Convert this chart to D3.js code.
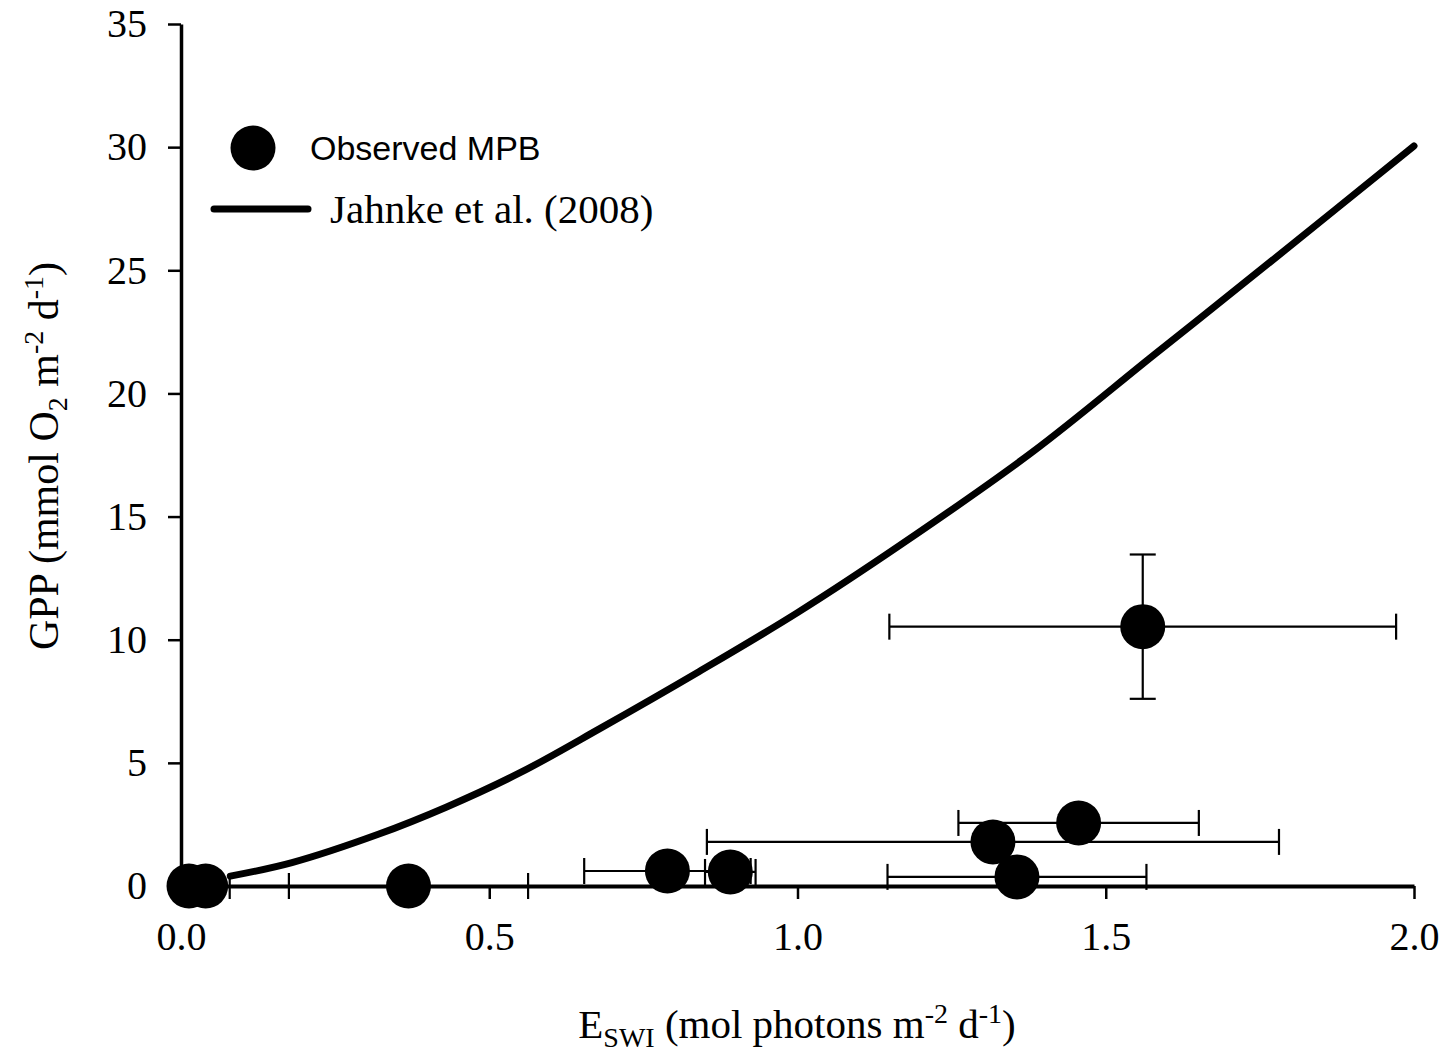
<!DOCTYPE html>
<html>
<head>
<meta charset="utf-8">
<script src="https://cdn.jsdelivr.net/npm/d3@7"></script>
<style>
  html, body { margin: 0; padding: 0; background: #fff; }
  svg { display: block; }
</style>
</head>
<body>
<svg id="chart" width="1446" height="1059"></svg>
<script>
// Observed MPB points
const obsX    = [0.013, 0.040, 0.369, 0.789, 0.891, 1.317, 1.356, 1.456, 1.560];
const obsY    = [0.0,   0.0,   0.0,   0.61,  0.57,  1.79,  0.37,  2.56,  10.53];
const obsXErr = [0.0,   0.039, 0.194, 0.135, 0.041, 0.464, 0.21,  0.195, 0.411];
const obsYErr = [0.0,   0.0,   0.0,   0.0,   0.0,   0.0,   0.0,   0.0,   2.93];

// Jahnke et al. (2008) curve
const curveX = [0.08, 0.18, 0.32, 0.43, 0.55, 0.68, 0.84, 1.0, 1.17, 1.38, 1.58, 1.78, 2.0];
const curveY = [0.4,  0.95, 2.1,  3.2,  4.6,  6.4,  8.7,  11.1, 13.9, 17.6, 21.6, 25.6, 30.05];

const xTicks = [0, 0.5, 1.0, 1.5, 2.0];
const yTicks = [0, 5, 10, 15, 20, 25, 30, 35];

const legendLabels = ["Observed MPB", "Jahnke et al. (2008)"];

const svg = d3.select("#chart");
const plotLeft = 181, plotTop = 24, plotRight = 1414, plotBottom = 886;

const x = d3.scaleLinear().domain([0, 2]).range([plotLeft, plotRight]);
const y = d3.scaleLinear().domain([0, 35]).range([plotBottom, plotTop]);

const serif = "'Liberation Serif', 'Times New Roman', serif";
const sans = "'Liberation Sans', Arial, sans-serif";

// Curve
const line = d3.line().x(d => x(d[0])).y(d => y(d[1])).curve(d3.curveCatmullRom.alpha(0.5));
svg.append("path")
  .datum(curveX.map((v, i) => [v, curveY[i]]))
  .attr("d", line)
  .attr("fill", "none")
  .attr("stroke", "#000")
  .attr("stroke-width", 7)
  .attr("stroke-linecap", "round");

// Error bars
const pts = obsX.map((v, i) => ({x: v, y: obsY[i], ex: obsXErr[i], ey: obsYErr[i]}));
const eb = svg.append("g").attr("stroke", "#000").attr("stroke-width", 2.2).attr("fill", "none");
const cap = 13;
pts.forEach(p => {
  if (p.ex > 0) {
    const x0 = x(p.x - p.ex), x1 = x(p.x + p.ex), yy = y(p.y);
    eb.append("line").attr("x1", x0).attr("x2", x1).attr("y1", yy).attr("y2", yy);
    eb.append("line").attr("x1", x0).attr("x2", x0).attr("y1", yy - cap).attr("y2", yy + cap);
    eb.append("line").attr("x1", x1).attr("x2", x1).attr("y1", yy - cap).attr("y2", yy + cap);
  }
  if (p.ey > 0) {
    const y0 = y(p.y - p.ey), y1 = y(p.y + p.ey), xx = x(p.x);
    eb.append("line").attr("x1", xx).attr("x2", xx).attr("y1", y0).attr("y2", y1);
    eb.append("line").attr("x1", xx - cap).attr("x2", xx + cap).attr("y1", y0).attr("y2", y0);
    eb.append("line").attr("x1", xx - cap).attr("x2", xx + cap).attr("y1", y1).attr("y2", y1);
  }
});

// Axes
const xAxis = d3.axisBottom(x).tickValues(xTicks).tickFormat(d3.format(".1f")).tickSize(13).tickSizeOuter(0).tickPadding(20);
const gx = svg.append("g").attr("transform", `translate(0,${plotBottom})`).call(xAxis);
gx.select(".domain").attr("stroke-width", 4).attr("stroke", "#000");
gx.selectAll(".tick line").attr("stroke-width", 2.5).attr("stroke", "#000");
gx.selectAll(".tick text").attr("font-family", serif).attr("font-size", 40).attr("fill", "#000").attr("dy", "0.78em");

const yAxis = d3.axisLeft(y).tickValues(yTicks).tickFormat(d3.format("d")).tickSize(13).tickSizeOuter(0).tickPadding(21);
const gy = svg.append("g").attr("transform", `translate(${plotLeft},0)`).call(yAxis);
gy.select(".domain").attr("stroke-width", 3.5).attr("stroke", "#000");
gy.selectAll(".tick line").attr("stroke-width", 2.5).attr("stroke", "#000");
gy.selectAll(".tick text").attr("font-family", serif).attr("font-size", 40).attr("fill", "#000");

// Points (on top)
svg.append("g").selectAll("circle").data(pts).join("circle")
  .attr("cx", d => x(d.x)).attr("cy", d => y(d.y)).attr("r", 22.5).attr("fill", "#000");

// Legend
svg.append("circle").attr("cx", 253).attr("cy", 148).attr("r", 22.5).attr("fill", "#000");
svg.append("text").attr("x", 310).attr("y", 160).attr("font-family", sans).attr("font-size", 34).text(legendLabels[0]);
svg.append("line").attr("x1", 214).attr("x2", 308).attr("y1", 209).attr("y2", 209)
  .attr("stroke", "#000").attr("stroke-width", 7).attr("stroke-linecap", "round");
svg.append("text").attr("x", 330).attr("y", 223).attr("font-family", serif).attr("font-size", 41).text(legendLabels[1]);

// X axis title
const xt = svg.append("text").attr("x", 797).attr("y", 1038).attr("text-anchor", "middle")
  .attr("font-family", serif).attr("font-size", 41);
xt.append("tspan").text("E");
xt.append("tspan").attr("font-size", 28).attr("dy", 9).text("SWI");
xt.append("tspan").attr("dy", -9).text(" (mol photons m");
xt.append("tspan").attr("font-size", 28).attr("dy", -15).text("-2");
xt.append("tspan").attr("dy", 15).text(" d");
xt.append("tspan").attr("font-size", 28).attr("dy", -15).text("-1");
xt.append("tspan").attr("dy", 15).text(")");

// Y axis title
const yt = svg.append("text").attr("transform", "translate(58,456) rotate(-90)").attr("text-anchor", "middle")
  .attr("font-family", serif).attr("font-size", 42);
yt.append("tspan").text("GPP (mmol O");
yt.append("tspan").attr("font-size", 28).attr("dy", 9).text("2");
yt.append("tspan").attr("dy", -9).text(" m");
yt.append("tspan").attr("font-size", 28).attr("dy", -15).text("-2");
yt.append("tspan").attr("dy", 15).text(" d");
yt.append("tspan").attr("font-size", 28).attr("dy", -15).text("-1");
yt.append("tspan").attr("dy", 15).text(")");
</script>
</body>
</html>
